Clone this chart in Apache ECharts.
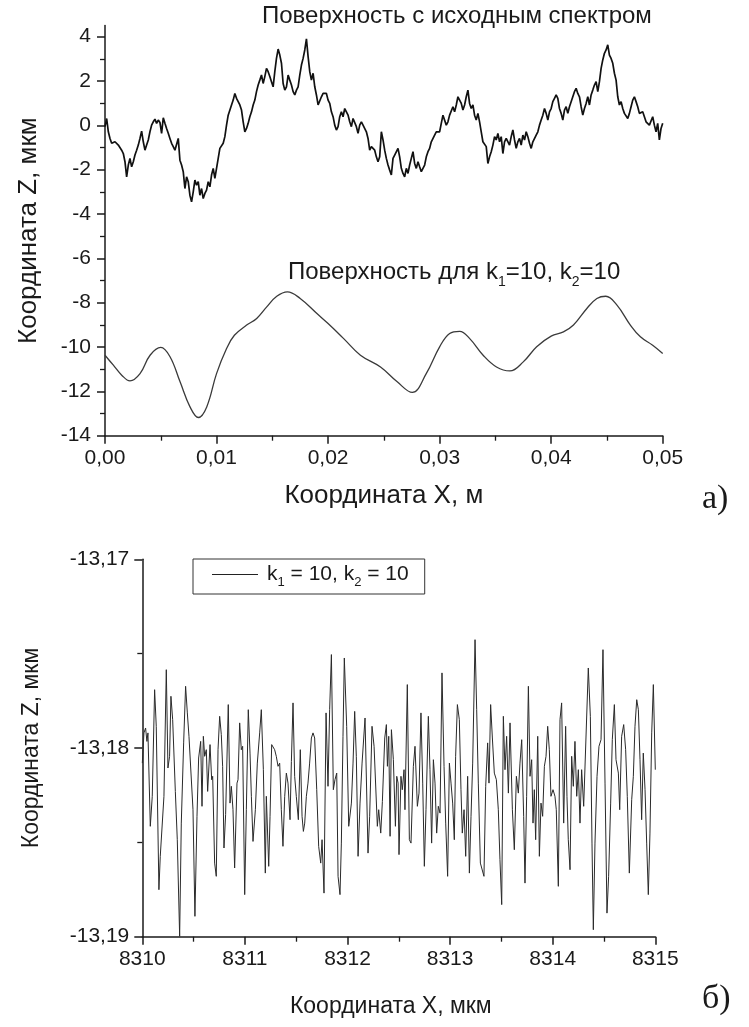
<!DOCTYPE html>
<html>
<head>
<meta charset="utf-8">
<script src="https://cdn.jsdelivr.net/npm/echarts@6/dist/echarts.min.js"></script>
<style>
  html, body { margin: 0; padding: 0; background: #fff; }
  #chart { width: 749px; height: 1027px; }
</style>
</head>
<body>
<div id="chart"></div>
<script>
// Rough surface profile, Z in µm, samples evenly spaced over X = 0 … 0.05 m
const roughZ = [
  -0.06, 0.31, -0.29, -0.59, -0.81, -0.74, -0.74, -0.81, -0.89, -0.81,
  -1.12, -1.27, -1.64, -2.32, -1.79, -1.49, -1.87, -1.64, -1.34, -1.12,
  -0.89, -0.59, -0.26, -0.74, -1.12, -0.89, -0.66, -0.29, 0.01, 0.16,
  0.28, 0.09, 0.24, 0.13, -0.36, 0.34, 0.09, -0.14, -0.36, -0.59,
  -0.81, -0.96, -1.12, -1.04, -0.59, -1.57, -1.79, -2.09, -2.85, -2.32,
  -2.54, -3.15, -3.45, -3.00, -2.47, -2.70, -2.54, -3.15, -2.85, -3.30,
  -3.07, -2.92, -2.54, -2.77, -2.24, -1.94, -2.39, -1.94, -1.49, -1.04,
  -0.96, -0.81, -0.51, 0.01, 0.46, 0.54, 0.92, 1.14, 1.44, 1.22,
  1.07, 0.92, 0.69, 0.16, -0.29, -0.14, 0.09, 0.39, 0.61, 0.92,
  1.14, 1.52, 1.82, 2.04, 2.27, 1.89, 2.20, 2.57, 2.42, 2.20,
  1.97, 1.74, 2.42, 3.02, 3.44, 3.17, 2.80, 1.89, 1.59, 1.74,
  2.27, 2.04, 1.82, 1.52, 1.37, 1.59, 1.74, 2.27, 2.72, 3.02,
  3.40, 3.90, 3.10, 2.42, 2.04, 2.35, 1.74, 1.37, 0.92, 0.99,
  1.29, 1.44, 1.37, 1.44, 1.14, 0.99, 0.61, 0.39, 0.01, -0.21,
  -0.06, 0.39, 0.61, 0.39, 0.76, 0.84, 0.46, 0.16, -0.06, 0.31,
  0.39, -0.06, -0.36, 0.01, 0.16, 0.01, -0.06, -0.29, -0.59, -1.12,
  -0.96, -0.89, -1.12, -1.42, -1.64, -1.42, -0.29, -0.66, -1.12,
  -1.49, -1.79, -2.02, -2.24, -1.49, -1.34, -1.42, -1.04, -1.42, -1.94,
  -2.17, -2.32, -1.94, -2.17, -1.79, -1.49, -1.19, -1.72, -1.94, -1.64,
  -1.87, -2.09, -2.17, -1.79, -1.42, -1.19, -1.04, -0.74, -0.66, -0.44,
  -0.29, -0.21, -0.29, 0.09, 0.46, 0.39, 0.01, 0.16, 0.46, 0.54,
  0.84, 0.61, 0.92, 1.29, 1.14, 0.99, 0.69, 0.92, 1.29, 1.59,
  0.99, 0.76, 0.92, 0.46, 0.24, 0.54, 0.16, -0.29, -0.74, -0.81,
  -0.96, -1.72, -1.42, -1.19, -0.89, -0.51, -0.66, -0.36, -0.74, -0.51,
  -1.27, -0.74, -0.59, -0.51, -0.89, -0.51, -0.21, -0.66, -1.04, -0.74,
  -0.59, -0.89, -0.44, -0.66, -0.29, -0.51, -0.81, -1.04, -0.74, -0.66,
  -0.44, -0.29, 0.01, 0.24, 0.46, 0.76, 0.54, 0.24, 0.61, 0.76,
  1.07, 1.22, 1.37, 1.22, 0.76, 0.54, 0.24, 0.69, 0.84, 0.54,
  0.84, 0.92, 1.29, 1.52, 1.67, 1.44, 1.29, 0.84, 0.46, 0.76,
  0.99, 1.29, 0.92, 1.37, 1.59, 1.82, 1.97, 1.52, 1.97, 2.57,
  2.95, 3.25, 3.40, 3.63, 3.17, 3.02, 2.80, 2.35, 2.04, 1.29,
  0.92, 1.07, 0.76, 0.54, 0.46, 0.31, 0.54, 0.84, 1.14, 1.29,
  1.07, 0.84, 0.54, 0.46, 0.61, 0.39, 0.16, 0.24, 0.01, -0.06,
  0.39, 0.01, -0.29, 0.09, -0.66, -0.14, 0.09
];
const roughXStart = 0;
const roughXEnd = 0.05;

// Filtered surface (k1 = 10, k2 = 10): X in m, Z in µm
const smoothX = [
  0, 0.00075, 0.0015, 0.00224, 0.00314, 0.00404, 0.0050, 0.00583, 0.00673, 0.00762,
  0.00837, 0.00912, 0.0100, 0.0109, 0.0116, 0.0127, 0.0136, 0.0145, 0.0154, 0.01635,
  0.0175, 0.0190, 0.0200, 0.0214, 0.0229, 0.0247, 0.0262, 0.02755, 0.0288, 0.0300,
  0.0309, 0.0318, 0.0327, 0.0339, 0.0351, 0.0363, 0.0375, 0.0387, 0.0400, 0.0411,
  0.0420, 0.0432, 0.0441, 0.0449, 0.0459, 0.0471, 0.0480, 0.0491, 0.0500
];
const smoothZ = [
  -10.37, -10.82, -11.27, -11.53, -11.20, -10.37, -10.02, -10.44, -11.57, -12.70,
  -13.18, -12.70, -11.20, -10.07, -9.47, -9.01, -8.71, -8.19, -7.71, -7.51,
  -7.81, -8.49, -8.94, -9.62, -10.37, -10.90, -11.57, -12.05, -11.20, -9.99,
  -9.39, -9.29, -9.62, -10.37, -10.90, -11.08, -10.67, -9.99, -9.51, -9.32,
  -9.01, -8.26, -7.81, -7.71, -8.11, -9.01, -9.54, -9.92, -10.29
];

// Fine detail of the filtered surface: X in µm, Z in µm
const detailX = [
  8310.000, 8310.016, 8310.032, 8310.045, 8310.055, 8310.078, 8310.097, 8310.120, 8310.136, 8310.162,
  8310.175, 8310.192, 8310.211, 8310.234, 8310.250, 8310.266, 8310.279, 8310.296, 8310.322, 8310.341,
  8310.364, 8310.380, 8310.403, 8310.422, 8310.439, 8310.455, 8310.471, 8310.494, 8310.513, 8310.533,
  8310.549, 8310.569, 8310.582, 8310.595, 8310.608, 8310.624, 8310.637, 8310.660, 8310.676, 8310.686,
  8310.705, 8310.721, 8310.738, 8310.754, 8310.770, 8310.783, 8310.796, 8310.812, 8310.838, 8310.855,
  8310.868, 8310.884, 8310.900, 8310.923, 8310.933, 8310.949, 8310.965, 8310.978, 8310.998, 8311.014,
  8311.033, 8311.050, 8311.063, 8311.079, 8311.102, 8311.121, 8311.144, 8311.160, 8311.180, 8311.199,
  8311.209, 8311.232, 8311.245, 8311.261, 8311.277, 8311.290, 8311.306, 8311.323, 8311.339, 8311.355,
  8311.371, 8311.388, 8311.404, 8311.420, 8311.440, 8311.453, 8311.469, 8311.485, 8311.501, 8311.521,
  8311.540, 8311.557, 8311.570, 8311.583, 8311.599, 8311.615, 8311.631, 8311.648, 8311.664, 8311.680,
  8311.700, 8311.719, 8311.739, 8311.752, 8311.771, 8311.791, 8311.810, 8311.826, 8311.843, 8311.862,
  8311.878, 8311.895, 8311.908, 8311.927, 8311.940, 8311.956, 8311.969, 8311.992, 8312.012, 8312.038,
  8312.054, 8312.070, 8312.086, 8312.103, 8312.122, 8312.142, 8312.171, 8312.200, 8312.216, 8312.239,
  8312.259, 8312.278, 8312.291, 8312.304, 8312.324, 8312.340, 8312.363, 8312.379, 8312.389, 8312.402,
  8312.415, 8312.428, 8312.447, 8312.467, 8312.480, 8312.493,
  8312.502, 8312.521, 8312.534, 8312.551, 8312.560, 8312.583, 8312.603, 8312.619, 8312.642, 8312.658,
  8312.681, 8312.697, 8312.716, 8312.733, 8312.749, 8312.765, 8312.788, 8312.804, 8312.820, 8312.837,
  8312.853, 8312.869, 8312.885, 8312.902, 8312.921, 8312.941, 8312.957, 8312.976, 8312.993, 8313.009,
  8313.025, 8313.041, 8313.054, 8313.071, 8313.090, 8313.106, 8313.119, 8313.136, 8313.152, 8313.171,
  8313.188, 8313.204, 8313.220, 8313.243, 8313.259, 8313.275, 8313.295, 8313.314, 8313.330, 8313.347,
  8313.366, 8313.379, 8313.395, 8313.412, 8313.431, 8313.451, 8313.470, 8313.486, 8313.503, 8313.519,
  8313.535, 8313.551, 8313.568, 8313.584, 8313.607, 8313.626, 8313.646, 8313.665, 8313.681, 8313.698,
  8313.717, 8313.730, 8313.746, 8313.763, 8313.779, 8313.795, 8313.808, 8313.821, 8313.834, 8313.854,
  8313.870, 8313.886, 8313.902, 8313.919, 8313.935, 8313.951, 8313.967, 8313.983, 8314.003, 8314.022,
  8314.035, 8314.055, 8314.071, 8314.087, 8314.107, 8314.126, 8314.139, 8314.152, 8314.169, 8314.185,
  8314.201, 8314.217, 8314.234, 8314.250, 8314.266, 8314.282, 8314.302, 8314.321, 8314.347, 8314.367,
  8314.383, 8314.396, 8314.412, 8314.432, 8314.451, 8314.471, 8314.490, 8314.510, 8314.529, 8314.545,
  8314.565, 8314.581, 8314.601, 8314.617, 8314.640, 8314.653, 8314.672, 8314.692, 8314.711, 8314.727,
  8314.747, 8314.770, 8314.786, 8314.802, 8314.819, 8314.835, 8314.851, 8314.867, 8314.883, 8314.900,
  8314.916, 8314.932, 8314.948, 8314.965, 8314.981, 8315.000
];
const detailZ = [
  -13.18080, -13.17920, -13.17894, -13.17965, -13.17920, -13.18415, -13.18256, -13.17691, -13.17885, -13.18751,
  -13.18574, -13.18583, -13.18256, -13.17585, -13.18106, -13.18044, -13.17726, -13.17850, -13.18230, -13.18486,
  -13.18998, -13.18398, -13.17973, -13.17673, -13.17814, -13.17938, -13.17947, -13.18327, -13.18892, -13.18362,
  -13.18053, -13.17965, -13.18309, -13.17938, -13.18044, -13.18009, -13.18230, -13.17982, -13.18168, -13.18150,
  -13.18610, -13.18680, -13.18009, -13.17832, -13.17929, -13.18097, -13.18530, -13.18353, -13.17770, -13.18292,
  -13.18203, -13.18327, -13.18636, -13.18186, -13.18168, -13.17867, -13.18009, -13.17991, -13.18777, -13.18327,
  -13.17797, -13.18027, -13.18256, -13.18495, -13.18327, -13.18080, -13.17920, -13.17797, -13.18115, -13.18663,
  -13.18256, -13.18627, -13.18362, -13.17982, -13.17991, -13.18009, -13.18044, -13.18097, -13.18080, -13.18327,
  -13.18521, -13.18256, -13.18133, -13.18186, -13.18380, -13.18071, -13.17761, -13.18150, -13.18256, -13.18380,
  -13.18009, -13.18362, -13.18442, -13.18398, -13.18256, -13.18186, -13.18080, -13.17947, -13.17920, -13.17947,
  -13.18221, -13.18521, -13.18610, -13.18486, -13.18769, -13.17814, -13.18203, -13.17797, -13.17505, -13.18221,
  -13.18168, -13.18133, -13.18680, -13.18777, -13.18504, -13.17938, -13.17523, -13.17885, -13.18415, -13.18292,
  -13.18080, -13.17806, -13.18044, -13.18574, -13.18292, -13.18080, -13.17841, -13.18557, -13.18362, -13.17885,
  -13.17991, -13.17991, -13.18415, -13.18327, -13.18451, -13.18283, -13.17947, -13.17876, -13.18097, -13.17938,
  -13.18468, -13.17903, -13.18062, -13.18415, -13.18150, -13.18186,
  -13.18565, -13.18150, -13.18221, -13.18115, -13.18327, -13.17664, -13.18486, -13.18504, -13.18097, -13.17991,
  -13.18309, -13.18239, -13.17814, -13.18186, -13.18627, -13.18327, -13.17832, -13.18115, -13.18504, -13.18062,
  -13.18186, -13.18451, -13.18309, -13.18345, -13.17602, -13.18097, -13.18398, -13.18680, -13.18080, -13.18186,
  -13.18292, -13.18486, -13.18044, -13.17770, -13.17850, -13.18221, -13.18451, -13.18327, -13.18574, -13.18150,
  -13.18663, -13.18362, -13.18080, -13.17426, -13.17797, -13.18186, -13.18610, -13.18610, -13.18680, -13.18203,
  -13.17973, -13.18186, -13.17770, -13.17947, -13.18133, -13.18168, -13.18327, -13.18592, -13.18830, -13.17832,
  -13.18115, -13.17938, -13.18239, -13.17867, -13.18327, -13.18539, -13.18150, -13.18239, -13.18080, -13.17956,
  -13.18362, -13.18716, -13.18256, -13.17673, -13.18150, -13.18062, -13.18398, -13.18221, -13.18486, -13.17938,
  -13.18574, -13.18292, -13.18362, -13.18097, -13.18044, -13.17885, -13.18009, -13.18256, -13.18221, -13.18256,
  -13.18327, -13.18733, -13.17850, -13.17761, -13.18398, -13.17885, -13.18256, -13.18486, -13.18645, -13.18044,
  -13.18203, -13.17965, -13.18256, -13.18115, -13.18398, -13.18115, -13.18309, -13.18309, -13.17576, -13.17832,
  -13.18504, -13.18963, -13.18504, -13.18150, -13.17991, -13.17956, -13.17479, -13.18186, -13.18875, -13.18680,
  -13.18292, -13.17956, -13.17770, -13.18062, -13.18133, -13.18327, -13.17938, -13.17876, -13.18009, -13.18256,
  -13.18663, -13.18274, -13.18150, -13.17885, -13.17744, -13.17797, -13.18062, -13.18380, -13.18027, -13.18221,
  -13.18504, -13.18777, -13.18451, -13.17920, -13.17664, -13.18115
];

// Tick values of the upper Z axis (major and minor)
const topZMajor = [-14, -12, -10, -8, -6, -4, -2, 0, 2, 4];
const topZMinor = [-13, -11, -9, -7, -5, -3, -1, 1, 3];

const SANS = "'Liberation Sans', Arial, sans-serif";
const SERIF = "'Liberation Serif', 'Times New Roman', serif";
const INK = '#1a1a1a';

const roughData = roughZ.map((z, i) => [roughXStart + (roughXEnd - roughXStart) * i / (roughZ.length - 1), z]);
const smoothData = smoothX.map((x, i) => [x, smoothZ[i]]);
const detailData = detailX.map((x, i) => [x, detailZ[i]]);

const comma = (digits) => (v) => Number(v).toFixed(digits).replace('.', ',');

const axisLine = { show: true, onZero: false, lineStyle: { color: INK, width: 1.5 } };
const majorTick = { show: true, length: 8, lineStyle: { color: INK, width: 1.5 } };
const minorTick = { show: true, splitNumber: 2, length: 5, lineStyle: { color: INK, width: 1.3 } };
const labelStyle = { color: INK, fontFamily: SANS, fontSize: 21 };
const nameStyle = { color: INK, fontFamily: SANS, fontSize: 26 };

const subRich = {
  a: { fontFamily: SANS, fontSize: 24, fontWeight: 'normal', color: INK },
  s: { fontFamily: SANS, fontSize: 14, fontWeight: 'normal', color: INK, padding: [19, 0, 0, 0] }
};

const option = {
  animation: false,
  backgroundColor: '#fff',
  title: [
    {
      text: 'Поверхность с исходным спектром',
      left: 262, top: 4, padding: 0,
      textStyle: { fontFamily: SANS, fontSize: 24, fontWeight: 'normal', color: INK }
    },
    {
      text: '{a|Поверхность для k}{s|1}{a|=10, k}{s|2}{a|=10}',
      left: 288, top: 256, padding: 0,
      textStyle: { fontWeight: 'normal', rich: subRich }
    },
    {
      text: 'а)', left: 702, top: 482, padding: 0,
      textStyle: { fontFamily: SERIF, fontSize: 34, fontWeight: 'normal', color: INK }
    },
    {
      text: 'б)', left: 702, top: 982, padding: 0,
      textStyle: { fontFamily: SERIF, fontSize: 34, fontWeight: 'normal', color: INK }
    }
  ],
  legend: {
    data: ['k1 = 10, k2 = 10'],
    left: 193, top: 559,
    padding: [5, 16, 5, 19],
    borderColor: '#333', borderWidth: 1,
    icon: 'rect', itemWidth: 46, itemHeight: 1.2,
    itemStyle: { color: '#222' },
    formatter: () => '{a|k}{s|1}{a| = 10, k}{s|2}{a| = 10}',
    textStyle: {
      padding: [0, 0, 0, 4],
      rich: {
        a: { fontFamily: SANS, fontSize: 21, color: INK },
        s: { fontFamily: SANS, fontSize: 13, color: INK, padding: [16, 0, 0, 0] }
      }
    }
  },
  grid: [
    { left: 105, top: 25.6, width: 557.7, height: 410.1 },
    { left: 142.3, top: 559.3, width: 513, height: 377.4 }
  ],
  xAxis: [
    {
      gridIndex: 0, type: 'value', min: 0, max: 0.05, interval: 0.01,
      axisLine, axisTick: majorTick, minorTick, splitLine: { show: false },
      axisLabel: { ...labelStyle, margin: 12, formatter: comma(2) },
      name: 'Координата X, м', nameLocation: 'middle', nameGap: 47, nameTextStyle: nameStyle
    },
    {
      gridIndex: 1, type: 'value', min: 8310, max: 8315, interval: 1,
      axisLine, axisTick: majorTick, minorTick, splitLine: { show: false },
      axisLabel: { ...labelStyle, margin: 12, formatter: (v) => String(Math.round(v)) },
      name: 'Координата X, мкм', nameLocation: 'middle', nameGap: 58,
      nameTextStyle: { ...nameStyle, fontSize: 23, padding: [0, 16, 0, 0] }
    }
  ],
  yAxis: [
    {
      gridIndex: 0, type: 'value', position: 'left', min: -14, max: 4.5, interval: 2,
      axisLine,
      axisTick: { ...majorTick, customValues: topZMajor },
      axisLabel: { ...labelStyle, margin: 14, customValues: topZMajor, formatter: (v) => String(Math.round(v)) },
      splitLine: { show: false },
      name: 'Координата Z, мкм', nameLocation: 'middle', nameGap: 63, nameTextStyle: nameStyle
    },
    {
      gridIndex: 0, type: 'value', position: 'left', min: -14, max: 4.5, interval: 1,
      axisLine: { show: false },
      axisTick: { show: true, length: 5, lineStyle: { color: INK, width: 1.3 }, customValues: topZMinor },
      axisLabel: { show: false },
      splitLine: { show: false }
    },
    {
      gridIndex: 1, type: 'value', position: 'left', min: -13.19, max: -13.17, interval: 0.01,
      axisLine, axisTick: majorTick, minorTick, splitLine: { show: false },
      axisLabel: { ...labelStyle, margin: 13, formatter: comma(2) },
      name: 'Координата Z, мкм', nameLocation: 'middle', nameGap: 99,
      nameTextStyle: { ...nameStyle, fontSize: 23 }
    }
  ],
  series: [
    {
      name: 'Поверхность с исходным спектром', type: 'line', xAxisIndex: 0, yAxisIndex: 0,
      data: roughData, symbol: 'none', silent: true,
      lineStyle: { color: '#111', width: 1.7 }
    },
    {
      name: 'Поверхность для k1=10, k2=10', type: 'line', xAxisIndex: 0, yAxisIndex: 0,
      data: smoothData, symbol: 'none', smooth: 0.4, silent: true,
      lineStyle: { color: '#3a3a3a', width: 1.3 }
    },
    {
      name: 'k1 = 10, k2 = 10', type: 'line', xAxisIndex: 1, yAxisIndex: 2,
      data: detailData, symbol: 'none', silent: true,
      lineStyle: { color: '#2a2a2a', width: 1 }
    }
  ]
};

const chart = echarts.init(document.getElementById('chart'), null, { renderer: 'canvas' });
chart.setOption(option);
</script>
</body>
</html>
